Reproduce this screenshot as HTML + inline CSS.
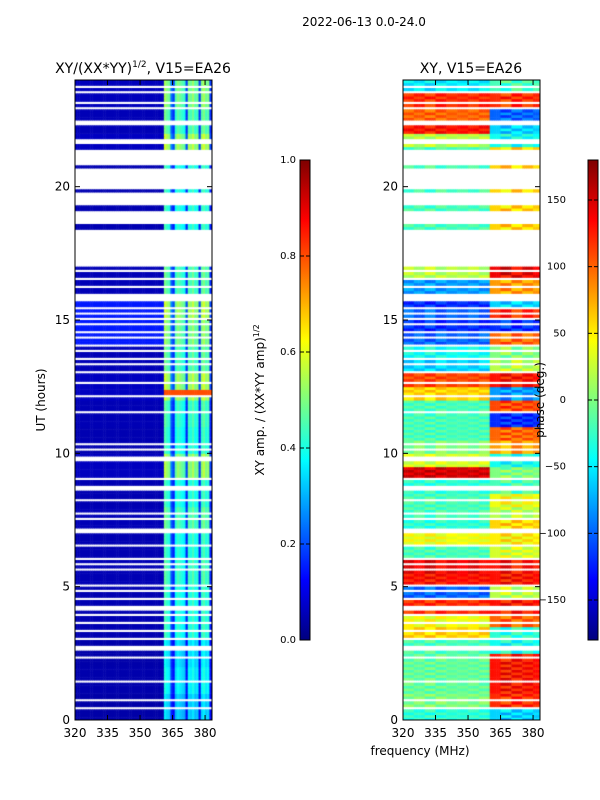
<!DOCTYPE html>
<html><head><meta charset="utf-8"><style>
body{margin:0;background:#fff;width:600px;height:800px;overflow:hidden;position:relative;font-family:"Liberation Sans",sans-serif}
canvas,svg{position:absolute;left:0;top:0}
</style></head><body>
<canvas id="c" width="600" height="800"></canvas>
<svg id="s" width="600" height="800"></svg>
<script>
// ---- data ----
const freqStart = 320, freqEnd = 383.2, chanWidth = 1;
const timeStep = 0.1;
const bandSplit = 360;
const gaps = [[0.45,0.55],[0.72,0.8],[1.45,1.55],[2.35,2.42],[2.6,2.8],[3.05,3.12],[3.3,3.36],[3.6,3.66],[3.9,3.96],[4.1,4.3],[4.5,4.56],[4.65,4.7],[4.8,4.86],[5.0,5.05],[5.6,5.66],[5.8,5.86],[6.0,6.06],[6.5,6.56],[7.0,7.06],[7.12,7.18],[7.5,7.56],[7.7,7.76],[8.2,8.26],[8.6,8.8],[9.0,9.07],[9.7,9.9],[10.1,10.16],[10.3,10.36],[11.5,11.56],[12.1,12.16],[12.6,12.66],[13.0,13.05],[13.3,13.36],[13.5,13.55],[13.8,13.85],[14.0,14.06],[14.3,14.35],[14.5,14.56],[14.8,14.85],[15.0,15.06],[15.2,15.25],[15.4,15.45],[15.65,16.0],[16.2,16.26],[16.5,16.56],[16.8,16.86],[17.0,18.35],[18.55,19.1],[19.3,19.8],[19.95,20.7],[20.8,21.45],[21.6,21.8],[22.3,22.5],[22.9,22.96],[23.1,23.16],[23.5,23.56],[23.7,23.76]];
// amplitude per 1 MHz channel (320..383)
const ampColumns = [0.05,0.05,0.05,0.05,0.05,0.05,0.05,0.05,0.05,0.05,0.05,0.05,0.05,0.05,0.05,0.05,0.05,0.05,0.05,0.05,0.05,0.05,0.05,0.05,0.05,0.05,0.05,0.05,0.05,0.05,0.05,0.05,0.05,0.05,0.05,0.05,0.05,0.05,0.05,0.05,0.05,0.45,0.42,0.4,0.2,0.15,0.38,0.42,0.4,0.38,0.36,0.15,0.42,0.4,0.44,0.38,0.4,0.15,0.42,0.45,0.4,0.42,0.15,0.1];
// hourly amplitude modulation (0..24 h)
const ampHours = [0.8,0.9,0.85,1.0,1.0,1.05,1.0,1.1,1.0,1.25,1.0,1.05,1.3,1.1,1.2,1.3,1.1,1.0,1.0,1.0,1.0,1.3,1.1,1.2];
// phase per half-hour, left band and right band, degrees
const phaseLeft = [-30,0,-10,-10,-10,-20,60,40,120,-100,130,140,-20,40,-30,-20,-20,-30,150,30,0,-20,-20,-20,60,110,-60,-40,-100,-120,-100,-120,-80,20,-20,-20,-20,-20,-20,-20,-20,-20,-20,20,130,100,120,-50];
const phaseRight = [-60,120,130,130,130,-40,-30,100,130,20,130,130,30,50,60,20,40,-20,0,-40,80,100,-120,110,-80,130,20,0,100,-120,120,-60,80,140,90,90,60,60,60,60,60,60,60,-40,-60,-100,120,-20];
// per-5MHz phase texture offsets
const phaseCols = [10,-8,15,-12,5,-5,8,-10,0,20,-15,12,-5];
const ampTicks = [0.0,0.2,0.4,0.6,0.8,1.0];
const phaseTicks = [-150,-100,-50,0,50,100,150];
const xTicks = [320,335,350,365,380];
const yTicks = [0,5,10,15,20];

function jet(v){v=Math.max(0,Math.min(1,v));
 const r=Math.max(0,Math.min(1,1.5-Math.abs(4*v-3))),g=Math.max(0,Math.min(1,1.5-Math.abs(4*v-2))),b=Math.max(0,Math.min(1,1.5-Math.abs(4*v-1)));
 return `rgb(${r*255|0},${g*255|0},${b*255|0})`;}
const panels=[{x0:75,x1:212},{x0:403,x1:540}], Y0=720,Y1=80;
const xs=(p,f)=>p.x0+(f-freqStart)/(freqEnd-freqStart)*(p.x1-p.x0);
const ys=t=>Y0-t/24*(Y0-Y1);
const isGap=t=>gaps.some(g=>t>=g[0]&&t<g[1]);
const ctx=document.getElementById('c').getContext('2d');
for(const [pi,p] of panels.entries()){
 ctx.save();ctx.beginPath();ctx.rect(p.x0,Y1,p.x1-p.x0,Y0-Y1);ctx.clip();
 for(let t=0;t<24-1e-9;t+=timeStep){
  const tc=t+timeStep/2; if(isGap(tc))continue;
  for(let c=0;c<ampColumns.length;c++){
   const f=freqStart+c*chanWidth;
   let v;
   if(pi===0){v=ampColumns[c]*ampHours[Math.floor(tc)]; if(f<bandSplit+1&&tc>14&&tc<16)v=0.15; if(f>=bandSplit+1&&tc>12.15&&tc<12.35)v=0.8;}
   else{const hh=Math.floor(tc*2);let ph=(f<bandSplit?phaseLeft[hh]:phaseRight[hh])+phaseCols[Math.floor(c/5)]*(Math.floor(tc*10)%2?1:-1);
    ph=((ph+180)%360+360)%360-180; v=(ph+180)/360;}
   ctx.fillStyle=jet(v);
   const xa=xs(p,f),xb=xs(p,f+chanWidth);
   ctx.fillRect(xa,ys(t+timeStep),xb-xa+0.5,ys(t)-ys(t+timeStep)+0.5);
  }}
 ctx.restore();
}
// colorbars
for(const cx of [300,588]){const g=ctx.createLinearGradient(0,640,0,160);
 for(let i=0;i<=8;i++)g.addColorStop(i/8,jet(i/8));ctx.fillStyle=g;ctx.fillRect(cx,160,10,480);}
// ---- svg ----
const S=document.getElementById('s'),NS='http://www.w3.org/2000/svg';
function el(tag,at,txt){const e=document.createElementNS(NS,tag);for(const k in at)e.setAttribute(k,at[k]);if(txt!==undefined)e.textContent=txt;S.appendChild(e);return e;}
function text(x,y,s,size,name,anchor,rot){const e=el('text',{x:x,y:y,'font-size':size,'text-anchor':anchor||'middle','font-family':'DejaVu Sans, Liberation Sans, sans-serif',fill:'#000'},s);
 if(rot)e.setAttribute('transform',`rotate(${rot} ${x} ${y})`);
 
 return e;}
for(const [pi,p] of panels.entries()){
 const fr=el('rect',{x:p.x0,y:Y1,width:p.x1-p.x0,height:Y0-Y1,fill:'none',stroke:'#000','stroke-width':1});
 
 
 for(const f of xTicks){const x=xs(p,f);
  el('line',{x1:x,x2:x,y1:Y0,y2:Y0-5,stroke:'#000'});el('line',{x1:x,x2:x,y1:Y1,y2:Y1+5,stroke:'#000'});
  text(x,737,String(f),12,'x-tick-label');}
 for(const t of yTicks){const y=ys(t);
  el('line',{x1:p.x0,x2:p.x0+5,y1:y,y2:y,stroke:'#000'});el('line',{x1:p.x1,x2:p.x1-5,y1:y,y2:y,stroke:'#000'});
  text(p.x0-5,y+4,String(t),12,'y-tick-label','end');}
}
for(const [i,cx] of [300,588].entries()){
 const r=el('rect',{x:cx,y:160,width:10,height:480,fill:'none',stroke:'#000'});
 
 
 const ticks=i?phaseTicks:ampTicks;
 for(const v of ticks){const y=i?640-(v+180)/360*480:640-v*480;
  el('line',{x1:cx+10,x2:cx+6,y1:y,y2:y,stroke:'#000'});el('line',{x1:cx,x2:cx+4,y1:y,y2:y,stroke:'#000'});
  text(i?cx-22:cx-4,y+3,i?String(v).replace('-','\u2212'):v.toFixed(1),10,'colorbar-tick-label','end');}
}
text(364,26,'2022-06-13 0.0-24.0',12,'figure-title');
const t1=text(143,73,'',14,'amp-panel-title');
t1.innerHTML='XY/(XX*YY)<tspan font-size="9" dy="-6">1/2</tspan><tspan dy="6">, V15=EA26</tspan>';
text(471,73,'XY, V15=EA26',14,'phase-panel-title');
text(45,400,'UT (hours)',12,'y-axis-title','middle',-90);
const t2=text(264,400,'',12,'amp-colorbar-title','middle',-90);
t2.innerHTML='XY amp. / (XX*YY amp)<tspan font-size="8" dy="-5">1/2</tspan>';
text(544,400,'phase (deg.)',12,'phase-colorbar-title','middle',-90);
text(420,755,'frequency (MHz)',12,'x-axis-title');
</script>
</body></html>
